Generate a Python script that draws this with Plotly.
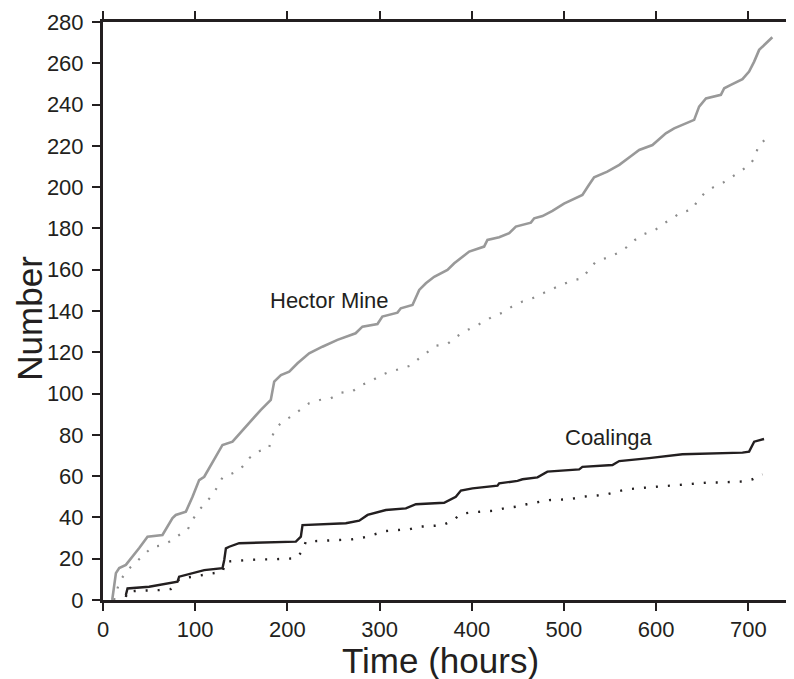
import plotly.graph_objects as go

# Hector Mine, solid (gray)
hm_t = [10, 12, 14, 17.6, 24.8, 39.3, 48.3, 64.5, 75.4, 79, 89.9, 97.1, 104.3, 109.8, 118.8, 126, 129.6,
        140.5, 153.1, 165.8, 171, 182, 185.7, 193, 202, 211, 223.6, 238, 254.3, 274, 281.4, 297.7, 303,
        319.4, 323, 335.7, 343, 350.2, 359.2, 373.6, 381, 397.2, 413.4, 417, 429.7, 440.6, 447.8, 464.1,
        467.7, 476.7, 487.5, 500, 513, 520, 527, 532.7, 547, 560, 574.3, 581.6, 596, 605, 610.5, 619.5,
        628.5, 641.2, 646.6, 654, 670.2, 673.8, 681, 693.6, 700.8, 706.3, 711.7, 726]
hm_n = [0, 8, 13, 15.5, 17, 25.2, 30.7, 31.5, 39.7, 41.2, 42.8, 50, 58.1, 59.7, 67, 72.7, 75.1,
        76.7, 83.2, 89.6, 92, 96.9, 105.8, 109, 110.6, 114.7, 119.5, 122.7, 126, 129.2, 132.4, 133.7, 137.3,
        139.2, 141.3, 142.9, 150.2, 153.4, 156.6, 159.9, 163.1, 168.8, 171.2, 174.4, 175.7, 177.7, 180.9, 182.8,
        184.9, 186, 188.5, 192, 194.6, 196.2, 201, 204.8, 207.5, 210.8, 215.6, 218, 220.4, 223.7, 226.1, 228.5,
        230.1, 232.6, 239, 243, 244.7, 247.9, 249.5, 252.3, 256, 260.8, 266.5, 272.6]

# Hector Mine, dotted (gray)
hd_t = [12, 18, 26.6, 35.7, 44.7, 53.7, 62.8, 71.8, 82.6, 91.6, 97, 104.3, 110.8, 118.8, 124.2, 129.6,
        142.3, 151.3, 158.6, 167.6, 180, 183, 187.5, 194.7, 203.8, 214.6, 223.6, 235, 247, 258, 270.6,
        280.4, 290.5, 299.6, 310.4, 321.3, 333.2, 342.2, 352, 361, 373.6, 382.7, 391.8, 402.6, 413.4,
        422.5, 433.3, 443.5, 455, 465.8, 476.7, 485.8, 496.6, 508.5, 520, 527.3, 534.6, 546, 558, 568,
        576.9, 587, 599, 607.6, 617.7, 626.8, 638.7, 644.8, 652.8, 661.8, 672.7, 681.7, 691.1, 701.6,
        708.1, 710.6, 720.7]
hd_n = [0, 9, 14.5, 18.3, 22.3, 25.8, 26.3, 28.2, 31.5, 33.9, 38.8, 43.6, 46.8, 50.9, 54.9, 59.4,
        61.7, 64.6, 68.7, 71.9, 73.5, 78.8, 83.2, 86.4, 88.8, 92.4, 95.3, 96.9, 97.7, 100.4, 101.1,
        104.2, 105.8, 108.5, 110.5, 111.8, 113.5, 116.8, 120, 123.2, 124, 127.3, 130, 132.4, 134.8,
        137.3, 139.2, 142.1, 144.6, 146.2, 148.6, 150.5, 152.6, 154.6, 155.9, 160.2, 163.9, 165.7, 168, 170.9,
        174.4, 177.3, 179.3, 182.2, 184.9, 187.8, 189, 193.3, 197.3, 199.9, 202.2, 204.8, 207.5, 210.8,
        215.1, 220.4, 223.7]

# Coalinga, solid (black)
cs_t = [24.8, 26.6, 50, 71.8, 80.8, 82.6, 93.5, 104.3, 109.8, 129.6, 131.5, 133.3, 136.9, 147.7, 209.2,
        214.6, 216.4, 263.4, 277.9, 287, 306.8, 328.5, 339.4, 370, 382.7, 388.2, 400.8, 427.9, 429.7,
        449.6, 455, 471.3, 482, 516.5, 520, 552.6, 559.9, 592.4, 628.5, 693.6, 700.8, 706.3, 717]
cs_n = [2.4, 5.6, 6.4, 8.1, 8.9, 11.3, 12.6, 13.7, 14.5, 15.4, 19.4, 25, 25.8, 27.5, 28.3,
        30.7, 36.3, 37.2, 38.4, 41.2, 43.6, 44.4, 46.4, 47.1, 50, 53, 54.1, 55.4, 56.5,
        57.7, 58.5, 59.4, 62.2, 63.3, 64.5, 65.4, 67.3, 68.7, 70.6, 71.4, 71.9, 76.7, 78]

# Coalinga, dotted (black)
cd_t = [24.8, 26, 35.7, 48.3, 60.9, 73.5, 82.6, 93.5, 105.5, 118.8, 129.6, 133.3, 145.9, 158.6, 171.2,
        183.9, 209.2, 216.4, 220, 232.6, 245.3, 258, 270.6, 283.3, 294, 306.8, 319.4, 332.1, 343, 355.6,
        368.2, 379, 388.2, 400.1, 412.8, 425.1, 435.1, 447.8, 459.7, 472.3, 484, 495.6, 507.5, 519.4,
        531, 543.6, 556, 567.8, 580, 592.4, 605, 618, 630.7, 643.4, 656, 668, 680.8, 693.6, 704.5, 715.3]
cd_n = [1.5, 4, 4.4, 4.5, 4.8, 5.3, 10, 11, 11.8, 12.9, 13.7, 18.6, 19.1, 19.4, 19.7,
        19.7, 20.2, 23.7, 28.3, 28.6, 28.6, 29.1, 29.4, 30.4, 31.8, 33.4, 33.9, 34.2, 35.5, 35.8,
        36.2, 38.4, 41.7, 42.5, 42.8, 43.3, 44.4, 45.2, 46.4, 47.3, 48.4, 48.6, 48.9, 50,
        50.5, 50.9, 52.3, 53.6, 54.1, 54.6, 55.2, 55.7, 56.2, 56.5, 56.9, 56.9, 57.2, 57.4, 58.5, 60.9]

x_ticks = [0, 100, 200, 300, 400, 500, 600, 700]
y_ticks = list(range(0, 281, 20))

GRAY = "#999999"
DOTGRAY = "#8c8c8c"
BLACK = "#231f20"
FONT = "Liberation Sans, Arial, sans-serif"

fig = go.Figure()
fig.add_trace(go.Scatter(x=hd_t, y=hd_n, mode="lines",
                         line=dict(color=DOTGRAY, width=2.2, dash="2px,10px"), showlegend=False))
fig.add_trace(go.Scatter(x=hm_t, y=hm_n, mode="lines",
                         line=dict(color=GRAY, width=2.6), showlegend=False))
fig.add_trace(go.Scatter(x=cd_t, y=cd_n, mode="lines",
                         line=dict(color=BLACK, width=2.4, dash="2px,10px"), showlegend=False))
fig.add_trace(go.Scatter(x=cs_t, y=cs_n, mode="lines",
                         line=dict(color=BLACK, width=2.4), showlegend=False))

fig.add_annotation(x=179, y=145.3, text="Hector Mine", showarrow=False, xanchor="left", yanchor="middle",
                   font=dict(family=FONT, size=22, color=BLACK))
fig.add_annotation(x=499, y=78.5, text="Coalinga", showarrow=False, xanchor="left", yanchor="middle",
                   font=dict(family=FONT, size=22, color=BLACK))

# axis titles
fig.add_annotation(xref="paper", yref="paper", x=0.489, y=-0.104, text="Time (hours)", showarrow=False,
                   xanchor="center", yanchor="middle", font=dict(family=FONT, size=35, color=BLACK))
fig.add_annotation(xref="paper", yref="paper", x=-0.106, y=0.488, text="Number", showarrow=False,
                   textangle=-90, xanchor="center", yanchor="middle",
                   font=dict(family=FONT, size=35, color=BLACK))

# the page places the figure 8px from the top-left corner, so the figure is 8px smaller
fig.update_layout(
    width=786, height=671,
    margin=dict(l=95, r=0, t=14, b=79, autoexpand=False),
    paper_bgcolor="white", plot_bgcolor="white",
    font=dict(family=FONT, color=BLACK),
    xaxis=dict(range=[0, 749.5], tickvals=x_ticks, ticks="outside", ticklen=8, tickwidth=2,
               tickcolor=BLACK, showline=True, linecolor=BLACK, linewidth=3, mirror="ticks",
               showgrid=False, zeroline=False, automargin=False,
               tickfont=dict(size=22, family=FONT, color=BLACK)),
    yaxis=dict(range=[0, 280], tickvals=y_ticks, ticks="outside", ticklen=8, tickwidth=2,
               tickcolor=BLACK, showline=True, linecolor=BLACK, linewidth=3, automargin=False,
               showgrid=False, zeroline=False, tickfont=dict(size=22, family=FONT, color=BLACK),
               ticklabelstandoff=4),
)

fig.write_html("out.html")
